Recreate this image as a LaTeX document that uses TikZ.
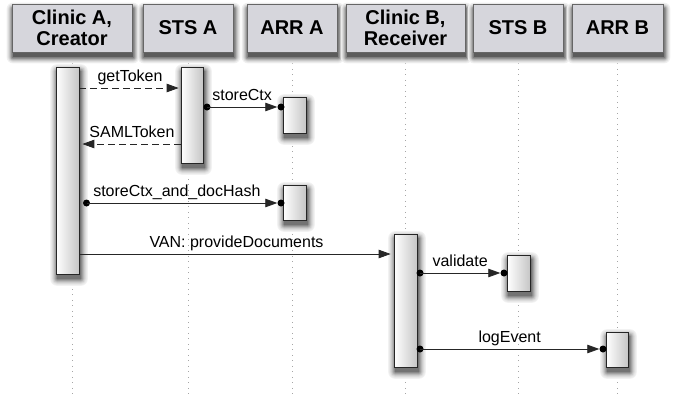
\documentclass[tikz,border=0pt]{standalone}
\usepackage{fontspec}
\setmainfont{Liberation Sans}
\usetikzlibrary{arrows.meta,backgrounds}
\begin{document}
\begin{tikzpicture}[x=1pt,y=-1pt,
 hdr/.style={draw=gray!80!black, line width=0.6pt, fill={rgb,255:red,214;green,214;blue,220},
   minimum height=48pt, inner sep=0pt, align=center,
   font=\fontsize{20}{21.5}\selectfont\bfseries},
 act/.style={draw=black!85, line width=0.7pt, left color=white, right color=gray!45,
   minimum width=23pt, inner sep=0pt},
 life/.style={draw=gray!70, line width=0.8pt, dash pattern=on 1pt off 4.5pt},
 msg/.style={draw=black!85, line width=0.8pt, -{Triangle[length=12pt,width=8.5pt]}},
 ret/.style={msg, dash pattern=on 7pt off 4pt},
 lbl/.style={font=\fontsize{16}{18}\selectfont, anchor=base, inner sep=0pt},
 dotn/.style={circle, fill=black, inner sep=0pt, minimum size=7pt}
]
\useasboundingbox (0,0) rectangle (675,397);
\coordinate (bottom) at (0,397);

% headers
\node[hdr, minimum width=120pt] (h1) at (72,28) {Clinic A,\\Creator};
\node[hdr, minimum width=90pt]  (h2) at (188,28) {STS A};
\node[hdr, minimum width=90pt]  (h3) at (292,28) {ARR A};
\node[hdr, minimum width=119pt] (h4) at (405.5,28) {Clinic B,\\Receiver};
\node[hdr, minimum width=90pt]  (h5) at (518,28) {STS B};
\node[hdr, minimum width=91pt]  (h6) at (617.5,28) {ARR B};

% activations
\node[act, minimum height=207pt] (ca)   at (67.5,170.5) {};
\node[act, minimum width=22pt, minimum height=96pt] (stsA) at (192,115) {};
\node[act, minimum height=36pt]  (arrA1) at (294.5,115) {};
\node[act, minimum height=35pt]  (arrA2) at (294.5,202.5) {};
\node[act, minimum height=133pt] (cb)   at (405.5,300.5) {};
\node[act, minimum height=36pt]  (stsB) at (518.5,273) {};
\node[act, minimum width=22pt, minimum height=35pt] (arrB) at (617,349.5) {};

\begin{scope}[on background layer]
  % lifelines
  \foreach \h in {h1,h2,h3,h4,h5,h6}
    \draw[life] (\h.south) -- (\h.south |- bottom);
  % soft shadows (header boxes)
  \foreach \n in {h1,h2,h3,h4,h5,h6}
    \foreach \w/\k in {6/6,5/11,4/18,3/27,2/38,1/50,0/64}
      \fill[black!\k, rounded corners=\w pt]
        ([shift={(-\w+1,-\w+5)}]\n.north west) rectangle ([shift={(\w+1,\w+5)}]\n.south east);
  % soft shadows (activations)
  \foreach \n in {ca,stsA,arrA1,arrA2,cb,stsB,arrB}
    \foreach \w/\k in {7/5,6/9,5/14,4/20,3/28,2/37,1/46,0/55}
      \fill[black!\k, rounded corners=\w pt]
        ([shift={(-\w+1.5,-\w+4.5)}]\n.north west) rectangle ([shift={(\w+1.5,\w+4.5)}]\n.south east);
\end{scope}

% dots
\node[dotn] (d1s) at (207,107) {};
\node[dotn] (d1e) at (281,107) {};
\node[dotn] (d2s) at (86.5,203) {};
\node[dotn] (d2e) at (281,203) {};
\node[dotn] (d3s) at (420,273) {};
\node[dotn] (d3e) at (504,273) {};
\node[dotn] (d4s) at (420,349) {};
\node[dotn] (d4e) at (603,349) {};

% messages
\draw[ret, shorten >=2pt] (ca.east |- 0,88) -- (stsA.west |- 0,88)
  node[lbl, midway, yshift=6.5pt] {getToken};
\draw[ret, shorten >=3pt] (stsA.west |- 0,144) -- (ca.east |- 0,144)
  node[lbl, midway, yshift=6.5pt, xshift=2pt] {SAMLToken};
\draw[msg] (d1s.center) -- (d1e.west)
  node[lbl, midway, yshift=7pt] {storeCtx};
\draw[msg] (d2s.center) -- (d2e.west)
  node[lbl, midway, yshift=7pt, xshift=-5pt] {storeCtx\_and\_docHash};
\draw[msg, shorten >=3pt] (ca.east |- 0,254) -- (cb.west |- 0,254)
  node[lbl, midway, yshift=6.5pt] {VAN: provideDocuments};
\draw[msg] (d3s.center) -- (d3e.west)
  node[lbl, midway, yshift=7pt] {validate};
\draw[msg] (d4s.center) -- (d4e.west)
  node[lbl, midway, yshift=7pt] {logEvent};
\end{tikzpicture}
\end{document}
